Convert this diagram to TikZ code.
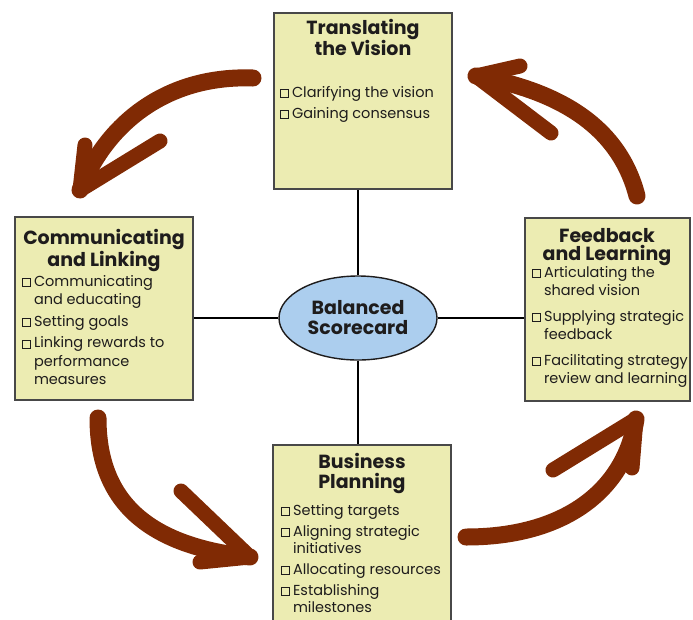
\documentclass[tikz,border=0pt]{standalone}
\usepackage{fontspec}
\setmainfont{Poppins}
\usepackage{tikz}
\usetikzlibrary{shapes.geometric, arrows}
\usetikzlibrary{positioning}
\definecolor{panelFill}{RGB}{236,236,178}
\definecolor{panelLine}{RGB}{72,72,72}
\definecolor{hubFill}{RGB}{172,206,238}
\definecolor{arrowBrown}{RGB}{128,42,4}
\definecolor{inkDark}{RGB}{30,28,28}
\newcommand{\cbx}{{\setlength{\fboxsep}{0pt}\setlength{\fboxrule}{0.9pt}\fbox{\rule{0pt}{7pt}\hspace{7pt}}}}
\tikzstyle{panel} = [rectangle, draw=panelLine, fill=panelFill, line width=1.4pt, inner sep=0pt]
\tikzstyle{hub} = [ellipse, draw=inkDark, fill=hubFill, line width=1.4pt, minimum width=158pt, minimum height=84pt, inner sep=0pt, align=center, text=inkDark, font=\fontsize{19}{20}\selectfont\bfseries]
\tikzstyle{panelTitle} = [anchor=north, inner sep=0pt, align=center, text=inkDark]
\tikzstyle{panelList} = [anchor=north west, inner sep=0pt, text=inkDark, font=\fontsize{14.5}{18.5}\selectfont]
\tikzstyle{spoke} = [line width=2.5pt, black]
\tikzstyle{bigArrow} = [line width=17pt, draw=arrowBrown, line cap=round]
\tikzstyle{barb} = [line width=15pt, draw=arrowBrown, line cap=round, line join=round]

\begin{document}
\begin{tikzpicture}[x=1pt, y=-1pt]
\clip (0,0) rectangle (693,619);
\node (tv) [panel, minimum width=178pt, minimum height=176pt] at (363,101) {};
\node (cl) [panel, minimum width=178pt, minimum height=183pt] at (104,308.5) {};
\node (fl) [panel, minimum width=165pt, minimum height=183pt] at (607.5,309.5) {};
\node (bp) [panel, minimum width=178pt, minimum height=190pt] at (362,540) {};
\node (bsc) [hub] at (358,318) {Balanced\\Scorecard};
\draw [spoke] (bsc.north) -- (bsc.north |- tv.south);
\draw [spoke] (bsc.south) -- (bsc.south |- bp.north);
\draw [spoke] (bsc.west) -- (bsc.west -| cl.east);
\draw [spoke] (bsc.east) -- (bsc.east -| fl.west);
\node (tvTitle) [panelTitle, font=\fontsize{19}{20}\selectfont\bfseries] at (363,19) {Translating\\the Vision};
\node (clTitle) [panelTitle, font=\fontsize{19}{16.5}\selectfont\bfseries] at (104,229.5) {Communicating\\and Linking};
\node (flTitle) [panelTitle, font=\fontsize{19}{18}\selectfont\bfseries] at (607,228) {Feedback\\and Learning};
\node (bpTitle) [panelTitle, font=\fontsize{19}{20}\selectfont\bfseries] at (362,453.5) {Business\\Planning};
\node (tvList) [panelList] at (280,84) {\begin{tabular}{@{}l@{\hspace{3pt}}l@{}}
\cbx & Clarifying the vision\\[2.5pt]
\cbx & Gaining consensus
\end{tabular}};
\node (clList) [panelList] at (22,273) {\begin{tabular}{@{}l@{\hspace{3pt}}l@{}}
\cbx & Communicating\\
 & and educating\\[3pt]
\cbx & Setting goals\\[3pt]
\cbx & Linking rewards to\\
 & performance\\
 & measures
\end{tabular}};
\node (flList) [panelList] at (532,264) {\begin{tabular}{@{}l@{\hspace{3pt}}l@{}}
\cbx & Articulating the\\
 & shared vision\\[7pt]
\cbx & Supplying strategic\\
 & feedback\\[7pt]
\cbx & Facilitating strategy\\
 & review and learning
\end{tabular}};
\node (bpList) [panelList, font=\fontsize{14.5}{17}\selectfont] at (281,503) {\begin{tabular}{@{}l@{\hspace{3pt}}l@{}}
\cbx & Setting targets\\[4pt]
\cbx & Aligning strategic\\
 & initiatives\\[4pt]
\cbx & Allocating resources\\[4pt]
\cbx & Establishing\\
 & milestones
\end{tabular}};
\coordinate (a1s) at (253,78);
\coordinate (a1e) at (80,190);
\coordinate (a1b) at (160,141);
\coordinate (a1c) at (85,145);
\coordinate (a2s) at (637,196);
\coordinate (a2e) at (476,76);
\coordinate (a2b) at (551,133);
\coordinate (a2c) at (520,66);
\coordinate (a3s) at (98,418);
\coordinate (a3e) at (250,557);
\coordinate (a3b) at (181,491);
\coordinate (a3c) at (200,562);
\coordinate (a4s) at (466,537);
\coordinate (a4e) at (636,419);
\coordinate (a4b) at (553,470);
\coordinate (a4c) at (632,468);
\draw [bigArrow] (a1s) .. controls (170,75) and (108,120) .. (a1e);
\draw [barb] (a1b) -- (a1e) -- (a1c);
\draw [bigArrow] (a2s) .. controls (620,130) and (565,92) .. (a2e);
\draw [barb] (a2b) -- (a2e) -- (a2c);
\draw [bigArrow] (a3s) .. controls (98,495) and (140,545) .. (a3e);
\draw [barb] (a3b) -- (a3e) -- (a3c);
\draw [bigArrow] (a4s) .. controls (565,537) and (625,490) .. (a4e);
\draw [barb] (a4b) -- (a4e) -- (a4c);
\end{tikzpicture}
\end{document}
